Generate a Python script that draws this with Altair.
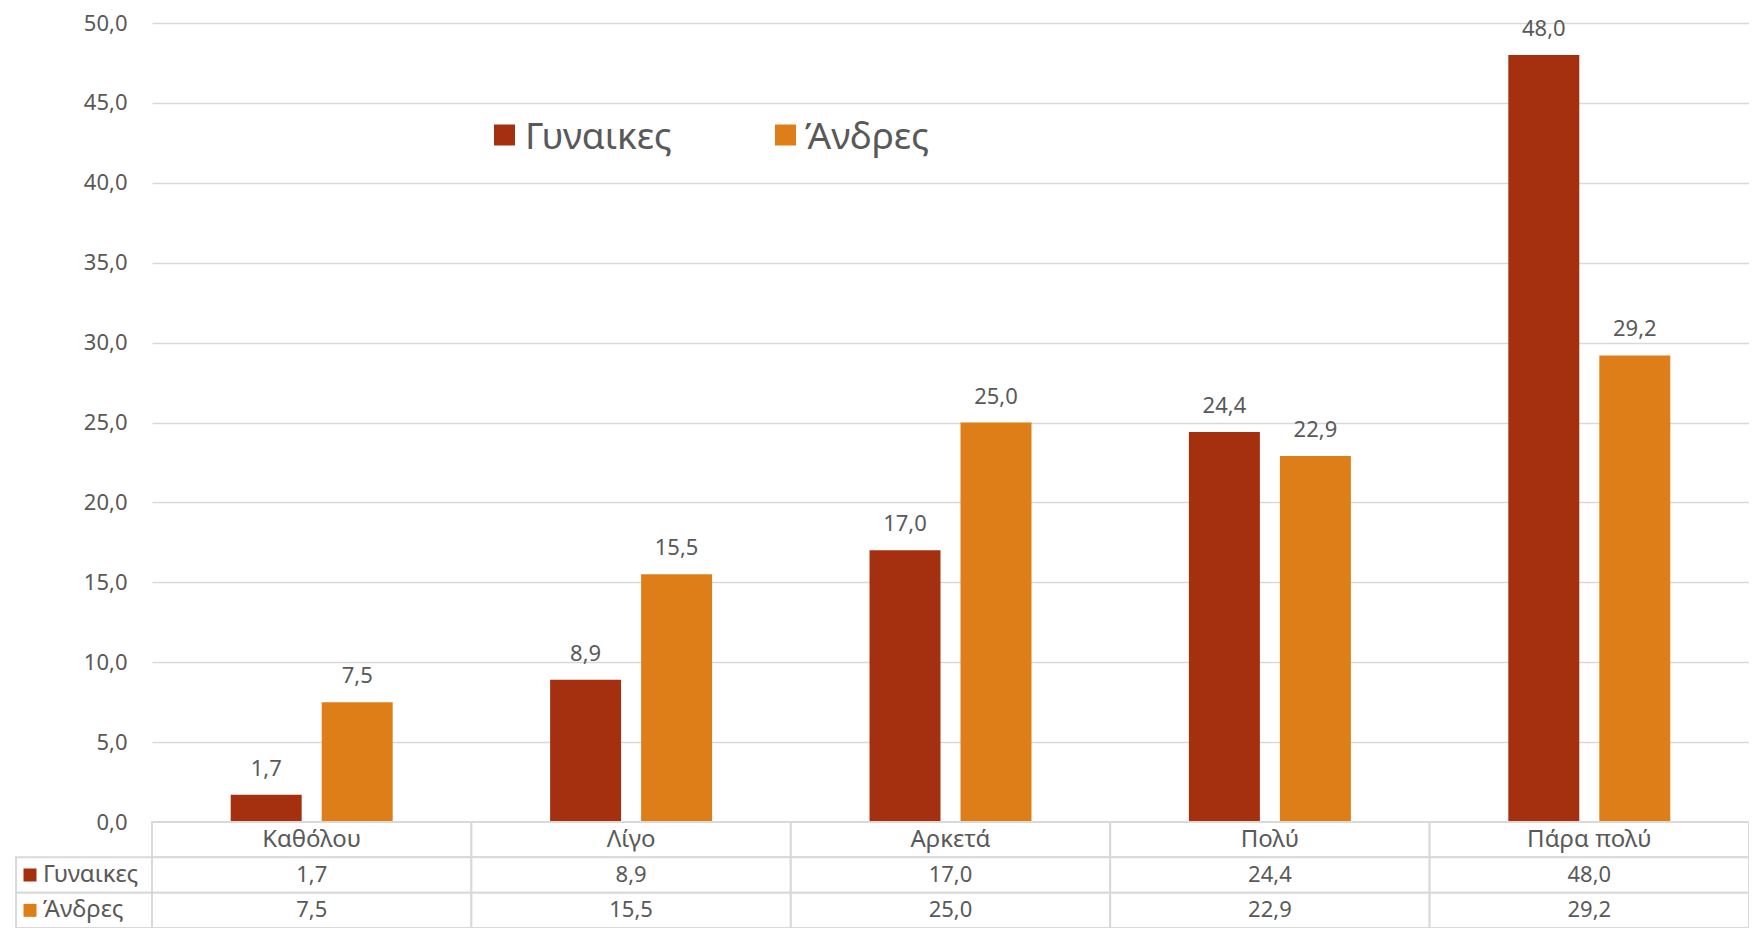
import altair as alt
import pandas as pd

categories = ["Καθόλου", "Λίγο", "Αρκετά", "Πολύ", "Πάρα πολύ"]
series = ["Γυναικες", "Άνδρες"]
women = [1.7, 8.9, 17.0, 24.4, 48.0]
men = [7.5, 15.5, 25.0, 22.9, 29.2]
y_ticks = [0, 5, 10, 15, 20, 25, 30, 35, 40, 45, 50]
colors = ["#A5300F", "#DE7E18"]
cat_row = "__cat__"
table_rows = [cat_row] + series

FONT = "Noto Sans"
GRAY = "#595959"
LINE = "#D9D9D9"
FMT = "replace(format(datum.value, '.1f'), '.', ',')"

rows = []
for i, c in enumerate(categories):
    rows.append({"cat": c, "series": series[0], "value": women[i]})
    rows.append({"cat": c, "series": series[1], "value": men[i]})
df = pd.DataFrame(rows)

cells = pd.DataFrame([{"cat": c, "row": r} for c in categories for r in table_rows])
cat_df = pd.DataFrame({"cat": categories, "row": [cat_row] * len(categories)})
ser_df = pd.DataFrame({"series": series})

TOP = 15
W, H = 1597, 799
x_enc = alt.X("cat:N", sort=categories,
              scale=alt.Scale(domain=categories, paddingInner=0, paddingOuter=0),
              axis=None)
xo_enc = alt.XOffset("series:N", sort=series,
                     scale=alt.Scale(domain=series, paddingInner=0.22, paddingOuter=0.865))
color_enc = alt.Color("series:N", scale=alt.Scale(domain=series, range=colors), legend=None)
y_scale = alt.Scale(domain=[0, 50], nice=False, zero=True)
tbl_scale = alt.Scale(domain=table_rows, range=[H, H + 106], paddingInner=0, paddingOuter=0)

bars = alt.Chart(df).mark_bar().encode(
    x=x_enc,
    xOffset=xo_enc,
    y=alt.Y("value:Q", scale=y_scale,
            axis=alt.Axis(values=y_ticks, labelExpr=FMT, grid=True, gridColor=LINE,
                          gridWidth=1.5, domain=False, ticks=False, labelFont=FONT,
                          labelFontSize=22, labelColor=GRAY, labelPadding=25, title=None)),
    color=color_enc,
)

labels = alt.Chart(df).transform_calculate(label=FMT).mark_text(
    dy=-26, font=FONT, fontSize=22, color=GRAY, baseline="middle"
).encode(
    x=x_enc, xOffset=xo_enc,
    y=alt.Y("value:Q", scale=y_scale, axis=None),
    text="label:N",
)

cell_rects = alt.Chart(cells).mark_rect(fill="white", stroke=LINE, strokeWidth=2).encode(
    x=x_enc,
    y=alt.Y("row:N", scale=tbl_scale, axis=None),
)

head_rects = alt.Chart(ser_df).mark_rect(fill="white", stroke=LINE, strokeWidth=2).encode(
    x=alt.value(-136), x2=alt.value(0),
    y=alt.Y("series:N", scale=tbl_scale, axis=None),
)

cat_text = alt.Chart(cat_df).mark_text(font=FONT, fontSize=24, color=GRAY, baseline="middle").encode(
    x=x_enc,
    y=alt.Y("row:N", scale=tbl_scale, axis=None),
    text="cat:N",
)

val_text = alt.Chart(df).transform_calculate(label=FMT).mark_text(
    font=FONT, fontSize=22, color=GRAY, baseline="middle"
).encode(
    x=x_enc,
    y=alt.Y("series:N", scale=tbl_scale, axis=None),
    text="label:N",
)

head_sw = alt.Chart(ser_df).mark_square(size=169, opacity=1).encode(
    x=alt.value(-122),
    y=alt.Y("series:N", scale=tbl_scale, axis=None),
    color=color_enc,
)

head_text = alt.Chart(ser_df).mark_text(
    font=FONT, fontSize=24, color=GRAY, align="left", baseline="middle"
).encode(
    x=alt.value(-109),
    y=alt.Y("series:N", scale=tbl_scale, axis=None),
    text="series:N",
)

legend_layers = []
for s, sx, tx in [(series[0], 352.5, 373), (series[1], 633.5, 653)]:
    sub = alt.Chart(ser_df).transform_filter(alt.datum.series == s)
    legend_layers.append(sub.mark_square(size=441, opacity=1).encode(
        x=alt.value(sx), y=alt.value(112), color=color_enc))
    legend_layers.append(sub.mark_text(
        font=FONT, fontSize=37, color=GRAY, align="left", baseline="middle"
    ).encode(x=alt.value(tx), y=alt.value(115), text="series:N"))

chart = alt.layer(
    bars, labels, cell_rects, head_rects, cat_text, val_text, head_sw, head_text,
    *legend_layers
).resolve_scale(y="independent").properties(
    width=W, height=H,
    padding={"left": 144, "top": TOP, "right": 0, "bottom": 920 - TOP - H},
    autosize=alt.AutoSizeParams(type="none"),
    background="white",
).configure_view(stroke=None)

chart.save("out.html", embed_options={"renderer": "svg", "actions": False})
